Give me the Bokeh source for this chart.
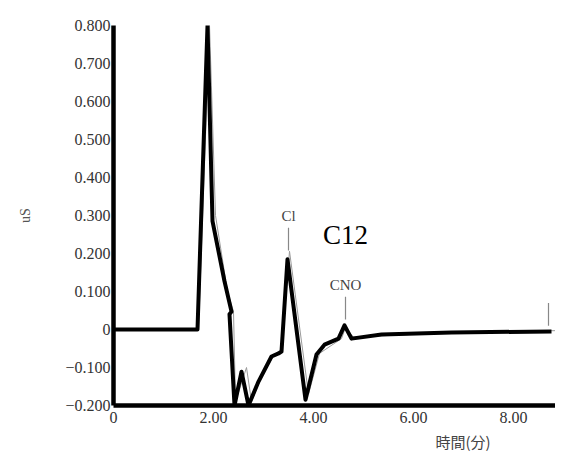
from bokeh.plotting import figure
from bokeh.models import Range1d, FixedTicker, Label, Title
from bokeh.core.properties import value
from bokeh.embed import file_html
from bokeh.resources import INLINE

# Chromatogram (processed trace, thick black)
time_min = [0.0, 1.68, 1.88, 1.98, 2.22, 2.36, 2.32, 2.42, 2.56, 2.70, 2.90,
            3.16, 3.30, 3.36, 3.48, 3.84, 4.06, 4.22, 4.50, 4.62, 4.76, 5.36,
            6.76, 8.76]
signal_us = [0.0, 0.0, 0.80, 0.285, 0.127, 0.047, 0.040, -0.20, -0.111, -0.20,
             -0.137, -0.071, -0.063, -0.058, 0.185, -0.185, -0.066, -0.040,
             -0.024, 0.011, -0.024, -0.013, -0.008, -0.005]

# Raw trace (thin grey)
raw_time = [0.0, 1.70, 1.92, 2.04, 2.28, 2.40, 2.44, 2.66, 2.76, 2.96, 3.20,
            3.36, 3.52, 3.90, 4.12, 4.56, 4.64, 4.80, 6.76, 8.86]
raw_signal = [0.0, 0.0, 0.80, 0.30, 0.10, 0.047, -0.19, -0.10, -0.19, -0.124,
              -0.07, -0.058, 0.206, -0.17, -0.063, -0.024, 0.005, -0.02,
              -0.008, -0.003]

# Peak identification
peak_names = ["Cl", "CNO", ""]
peak_times = [3.5, 4.64, 8.7]
peak_heights = [0.193, 0.011, -0.005]

x_ticks = [0, 2, 4, 6, 8]
x_tick_labels = ["0", "2.00", "4.00", "6.00", "8.00"]
y_ticks = [-0.2, -0.1, 0, 0.1, 0.2, 0.3, 0.4, 0.5, 0.6, 0.7, 0.8]
y_tick_labels = ["\u22120.200", "\u22120.100", "0", "0.100", "0.200", "0.300",
                 "0.400", "0.500", "0.600", "0.700", "0.800"]

SERIF = value("Liberation Serif")

p = figure(width=555, height=454, output_backend="svg", toolbar_location=None,
           x_range=Range1d(0, 8.84), y_range=Range1d(-0.2, 0.8),
           min_border_left=113, min_border_right=0, min_border_top=25,
           min_border_bottom=49)
p.outline_line_color = None
p.grid.visible = False
p.background_fill_color = "white"
p.border_fill_color = "white"

# axes
for ax in (p.xaxis, p.yaxis):
    ax.axis_line_width = 4.5
    ax.axis_line_color = "black"
    ax.major_tick_in = 0
    ax.major_tick_out = 0
    ax.minor_tick_in = 0
    ax.minor_tick_out = 0
    ax.major_label_text_font = "Liberation Serif"
    ax.major_label_text_font_size = "16px"
    ax.major_label_text_color = "#333333"

p.xaxis.ticker = FixedTicker(ticks=x_ticks)
p.xaxis.major_label_overrides = dict(zip(x_ticks, x_tick_labels))
p.xaxis.major_label_standoff = 6
p.yaxis.ticker = FixedTicker(ticks=y_ticks)
p.yaxis.major_label_overrides = dict(zip(y_ticks, y_tick_labels))
p.yaxis.major_label_standoff = 3
p.yaxis.axis_label = "uS"
p.yaxis.axis_label_text_font = "Liberation Serif"
p.yaxis.axis_label_text_font_style = "normal"
p.yaxis.axis_label_text_font_size = "14px"
p.yaxis.axis_label_text_color = "#555555"
p.yaxis.axis_label_standoff = 29

# x-axis title, placed toward the right as in the original printout
p.add_layout(Title(text="時間(分)", align="left", offset=322,
                   text_font="Noto Sans CJK JP", text_font_size="15px",
                   text_font_style="normal", text_color="#444444",
                   standoff=6), "below")

# traces
p.line(raw_time, raw_signal, line_color="#9a9a9a", line_width=1)
p.line(time_min, signal_us, line_color="black", line_width=4,
       line_join="round")

# peak markers and names
p.segment(x0=peak_times, y0=[h + 0.015 for h in peak_heights],
          x1=peak_times, y1=[h + 0.075 for h in peak_heights],
          line_color="#888888", line_width=1.2)
p.text(x=peak_times, y=[h + 0.105 for h in peak_heights], text=peak_names,
       text_font=SERIF, text_font_size="15px", text_color="#444444",
       text_align="center", text_baseline="middle")

p.add_layout(Label(x=4.64, y=0.248, text="C12", text_font="Liberation Serif",
                   text_font_size="27px", text_color="black",
                   text_align="center", text_baseline="middle"))

open("out.html", "w").write(file_html(p, INLINE))
